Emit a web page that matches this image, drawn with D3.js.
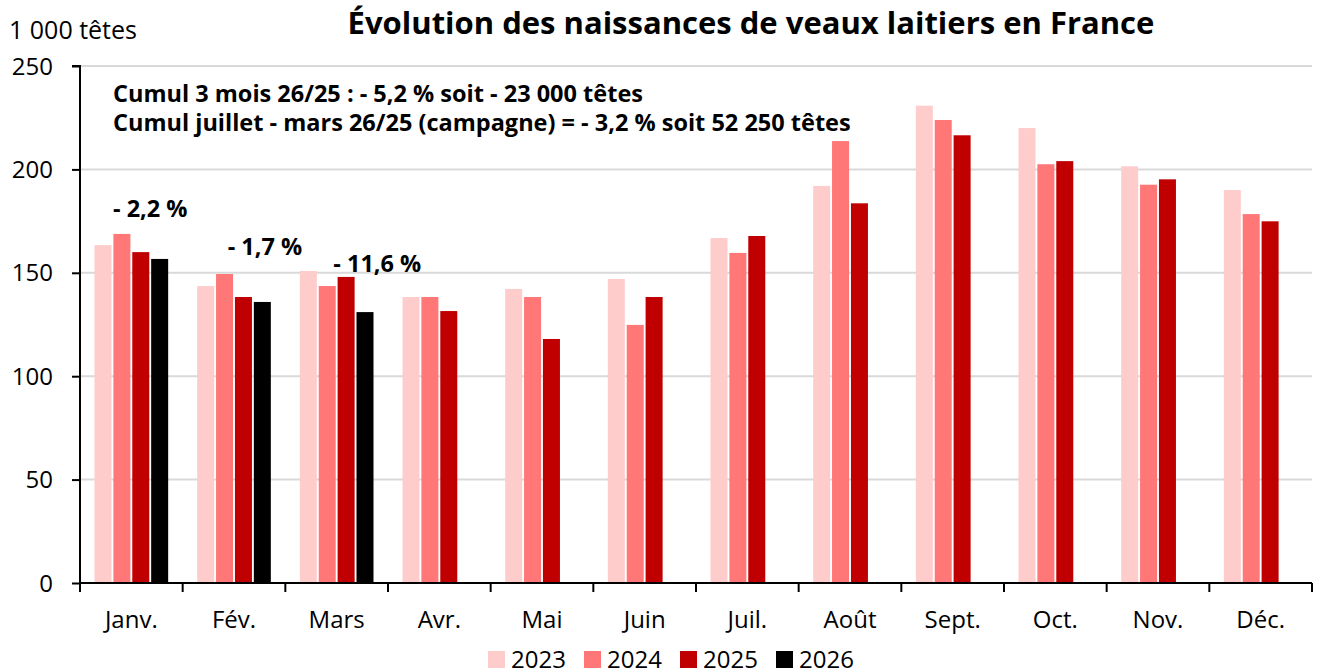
<!DOCTYPE html>
<html>
<head>
<meta charset="utf-8">
<script src="https://cdn.jsdelivr.net/npm/d3@7"></script>
<style>
  html, body { margin: 0; padding: 0; background: #fff; overflow: hidden; }
  svg { display: block; }
  svg text { font-family: "Open Sans", "Lato", sans-serif; }
</style>
</head>
<body>
<svg width="1317" height="671"></svg>
<script>
const months = ["Janv.", "Fév.", "Mars", "Avr.", "Mai", "Juin", "Juil.", "Août", "Sept.", "Oct.", "Nov.", "Déc."];
const years = ["2023", "2024", "2025", "2026"];
const v2023 = [163.4, 143.6, 150.9, 138.3, 142.2, 147.0, 166.8, 192.0, 230.8, 220.0, 201.5, 190.0];
const v2024 = [168.8, 149.4, 143.6, 138.3, 138.3, 124.8, 159.6, 213.7, 223.9, 202.5, 192.6, 178.4];
const v2025 = [160.0, 138.3, 148.0, 131.5, 118.0, 138.3, 167.8, 183.6, 216.5, 204.0, 195.2, 174.9];
const v2026 = [156.7, 135.9, 131.0];
const yTicks = [0, 50, 100, 150, 200, 250];
const changeLabels = ["- 2,2 %", "- 1,7 %", "- 11,6 %"];
const notes = [
  "Cumul 3 mois 26/25 : - 5,2 % soit - 23 000 têtes",
  "Cumul juillet - mars 26/25 (campagne) = - 3,2 % soit 52 250 têtes"
];
const colors = ["#ffcccc", "#ff7777", "#c00000", "#000000"];

const series = [v2023, v2024, v2025, v2026];
const data = [];
series.forEach((vals, s) => {
  vals.forEach((v, i) => data.push({ month: months[i], year: years[s], value: v }));
});

const svg = d3.select("svg");
const margin = { top: 66, right: 5, bottom: 88, left: 80 };
const width = 1317, height = 671;
const innerWidth = width - margin.left - margin.right;
const innerHeight = height - margin.top - margin.bottom;

// scales in page coordinates
const x = d3.scaleBand().domain(months).range([margin.left, margin.left + innerWidth]);
const xi = d3.scaleBand().domain(years).range([14.5, x.bandwidth() - 14.5]).paddingInner(0.1);
const y = d3.scaleLinear().domain([0, 250]).range([margin.top + innerHeight, margin.top]);

// grid
svg.append("g").selectAll("line").data(yTicks.filter(d => d > 0)).join("line")
  .attr("x1", margin.left).attr("x2", margin.left + innerWidth)
  .attr("y1", d => y(d)).attr("y2", d => y(d))
  .attr("stroke", "#d9d9d9").attr("stroke-width", 2);

// bars
svg.append("g").selectAll("rect").data(data).join("rect")
  .attr("x", d => x(d.month) + xi(d.year))
  .attr("width", xi.bandwidth())
  .attr("y", d => y(d.value))
  .attr("height", d => y(0) - y(d.value))
  .attr("fill", d => colors[years.indexOf(d.year)]);

// y axis (lines from d3, labels placed with the scale)
const yAxisG = svg.append("g").attr("transform", `translate(${margin.left},0)`)
  .call(d3.axisLeft(y).tickValues(yTicks).tickSize(8).tickFormat(""));
yAxisG.select(".domain").attr("stroke", "#000").attr("stroke-width", 2)
  .attr("d", `M-8,${margin.top}H0V${margin.top + innerHeight}`);
yAxisG.selectAll(".tick line").attr("stroke-width", 2);
yAxisG.selectAll(".tick text").remove();
svg.append("g").selectAll("text").data(yTicks).join("text")
  .attr("x", margin.left - 27).attr("y", d => y(d) + 8.5)
  .attr("text-anchor", "end").attr("font-size", 24).attr("fill", "#000")
  .text(d => d);

// x axis
const xAxisG = svg.append("g").attr("transform", `translate(0,${margin.top + innerHeight})`)
  .call(d3.axisBottom(x).tickSize(0).tickFormat(""));
xAxisG.select(".domain").attr("stroke", "#000").attr("stroke-width", 2)
  .attr("d", `M${margin.left},0H${margin.left + innerWidth}`);
xAxisG.selectAll(".tick text").remove();
xAxisG.selectAll(".sep").data(months.concat(["end"])).join("line")
  .attr("class", "sep")
  .attr("x1", (d, i) => margin.left + i * x.step()).attr("x2", (d, i) => margin.left + i * x.step())
  .attr("y1", 0).attr("y2", 9)
  .attr("stroke", "#000").attr("stroke-width", 2);
svg.append("g").selectAll("text").data(months).join("text")
  .attr("x", d => x(d) + x.bandwidth() / 2).attr("y", margin.top + innerHeight + 45)
  .attr("text-anchor", "middle").attr("font-size", 24).attr("fill", "#000")
  .text(d => d);

// title + unit
svg.append("text").attr("x", 751).attr("y", 34).attr("text-anchor", "middle")
  .attr("font-size", 31).attr("font-weight", "bold").attr("fill", "#000")
  .text("Évolution des naissances de veaux laitiers en France");
svg.append("text").attr("x", 9).attr("y", 39)
  .attr("font-size", 25).attr("fill", "#000").text("1 000 têtes");

// notes
svg.append("g").selectAll("text").data(notes).join("text")
  .attr("x", 113).attr("y", (d, i) => 102 + i * 29)
  .attr("font-size", 23.5).attr("font-weight", "bold").attr("fill", "#000")
  .text(d => d);

// change labels
const labelPos = [{ dx: 33, v: 177 }, { dx: 45, v: 158.7 }, { dx: 48, v: 150.5 }];
svg.append("g").selectAll("text").data(changeLabels).join("text")
  .attr("x", (d, i) => x(months[i]) + labelPos[i].dx)
  .attr("y", (d, i) => y(labelPos[i].v))
  .attr("font-size", 23.5).attr("font-weight", "bold").attr("fill", "#000")
  .text(d => d);

// legend
const legendX = 488, legendY = 651, legendStep = 96;
svg.append("g").selectAll("rect").data(years).join("rect")
  .attr("x", (d, i) => legendX + i * legendStep).attr("y", legendY)
  .attr("width", 17).attr("height", 17)
  .attr("fill", (d, i) => colors[i]);
svg.append("g").selectAll("text").data(years).join("text")
  .attr("x", (d, i) => legendX + i * legendStep + 23).attr("y", legendY + 17)
  .attr("font-size", 24).attr("fill", "#000").text(d => d);
</script>
</body>
</html>
